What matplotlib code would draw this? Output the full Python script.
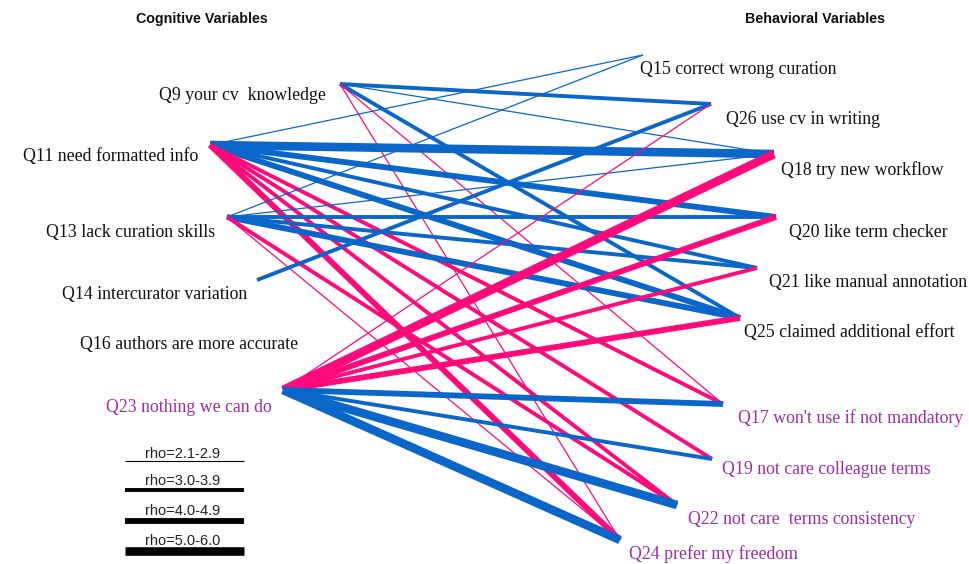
import matplotlib.pyplot as plt

# ---------------- data ----------------
cognitive = ['Q9 your cv  knowledge', 'Q11 need formatted info', 'Q13 lack curation skills',
             'Q14 intercurator variation', 'Q16 authors are more accurate', 'Q23 nothing we can do']
behavioral = ['Q15 correct wrong curation', 'Q26 use cv in writing', 'Q18 try new workflow',
              'Q20 like term checker', 'Q21 like manual annotation', 'Q25 claimed additional effort',
              "Q17 won't use if not mandatory", 'Q19 not care colleague terms',
              'Q22 not care  terms consistency', 'Q24 prefer my freedom']
purple_items = ['Q23', 'Q17', 'Q19', 'Q22', 'Q24']

# edges: source, target, sign (+1 blue / -1 pink), rho class (1..4)
edge_src = ['Q9', 'Q9', 'Q9', 'Q9', 'Q9',
            'Q11', 'Q11', 'Q11', 'Q11', 'Q11', 'Q11', 'Q11', 'Q11', 'Q11',
            'Q13', 'Q13', 'Q13', 'Q13', 'Q13', 'Q13', 'Q13',
            'Q14',
            'Q23', 'Q23', 'Q23', 'Q23', 'Q23', 'Q23', 'Q23', 'Q23', 'Q23']
edge_dst = ['Q26', 'Q18', 'Q25', 'Q17', 'Q24',
            'Q15', 'Q18', 'Q20', 'Q21', 'Q25', 'Q17', 'Q19', 'Q22', 'Q24',
            'Q15', 'Q18', 'Q20', 'Q21', 'Q25', 'Q22', 'Q24',
            'Q26',
            'Q26', 'Q18', 'Q20', 'Q21', 'Q25', 'Q17', 'Q19', 'Q22', 'Q24']
edge_sign = [1, 1, 1, -1, -1,
             1, 1, 1, 1, 1, -1, -1, -1, -1,
             1, 1, 1, 1, 1, -1, -1,
             1,
             -1, -1, -1, -1, -1, 1, 1, 1, 1]
edge_rho = [2, 1, 2, 1, 1,
            1, 4, 3, 2, 3, 2, 2, 2, 3,
            1, 1, 2, 2, 3, 2, 1,
            2,
            1, 4, 3, 2, 3, 3, 2, 4, 4]
legend_labels = ['rho=2.1-2.9', 'rho=3.0-3.9', 'rho=4.0-4.9', 'rho=5.0-6.0']

# ---------------- layout (pixel space) ----------------
node_xy = {'Q9': (340, 84), 'Q11': (210, 145), 'Q13': (227, 217), 'Q14': (257, 280),
           'Q16': (300, 333), 'Q23': (283, 390),
           'Q15': (643, 55), 'Q26': (711, 104), 'Q18': (774, 154), 'Q20': (776, 217),
           'Q21': (757, 268), 'Q25': (740, 318), 'Q17': (723, 404), 'Q19': (712, 459),
           'Q22': (677, 505), 'Q24': (620, 540)}
label_xy_left = [(326, 95), (198, 157), (215, 232), (247, 295), (298, 345), (272, 407)]
label_xy_right = [(640, 70), (726, 120), (781, 170), (789, 232), (769, 282), (744, 332),
                  (738, 418), (722, 469), (688, 519), (629, 554)]
widths = {1: 0.9, 2: 2.8, 3: 4.2, 4: 6.2}
c_pos, c_neg, c_purple = '#0a66c9', '#ff0a7a', '#9c2ea0'
serif = ['Liberation Serif', 'DejaVu Serif']
sans = ['Liberation Sans', 'DejaVu Sans']

fig = plt.figure(figsize=(9.69, 5.64), dpi=100)
ax = fig.add_axes([0, 0, 1, 1])
ax.set_xlim(0, 969)
ax.set_ylim(564, 0)
ax.axis('off')

for s, d, sg, r in zip(edge_src, edge_dst, edge_sign, edge_rho):
    x0, y0 = node_xy[s]
    x1, y1 = node_xy[d]
    ax.plot([x0, x1], [y0, y1], color=c_pos if sg > 0 else c_neg,
            lw=widths[r], solid_capstyle='butt', zorder=2)

for name, (x, y) in zip(cognitive, label_xy_left):
    col = c_purple if name.split()[0] in purple_items else '#111111'
    ax.text(x, y, name, ha='right', va='center', fontsize=12.8, family=serif, color=col)
for name, (x, y) in zip(behavioral, label_xy_right):
    col = c_purple if name.split()[0] in purple_items else '#111111'
    ax.text(x, y, name, ha='left', va='center', fontsize=12.8, family=serif, color=col)

ax.text(202, 19, 'Cognitive Variables', ha='center', va='center', fontsize=10.3,
        family=sans, fontweight='bold', color='#111111')
ax.text(815, 19, 'Behavioral Variables', ha='center', va='center', fontsize=10.3,
        family=sans, fontweight='bold', color='#111111')

# legend
leg_y = [461, 490, 521, 551]
leg_txt_y = [454, 481, 511, 541]
for i, lab in enumerate(legend_labels):
    ax.plot([125, 244], [leg_y[i], leg_y[i]], color='black', lw=widths[i + 1] if i else 0.8,
            solid_capstyle='butt')
    ax.text(183, leg_txt_y[i], lab, ha='center', va='center', fontsize=10.5, family=sans,
            color='#222222')

plt.savefig('out.png', dpi=100)
